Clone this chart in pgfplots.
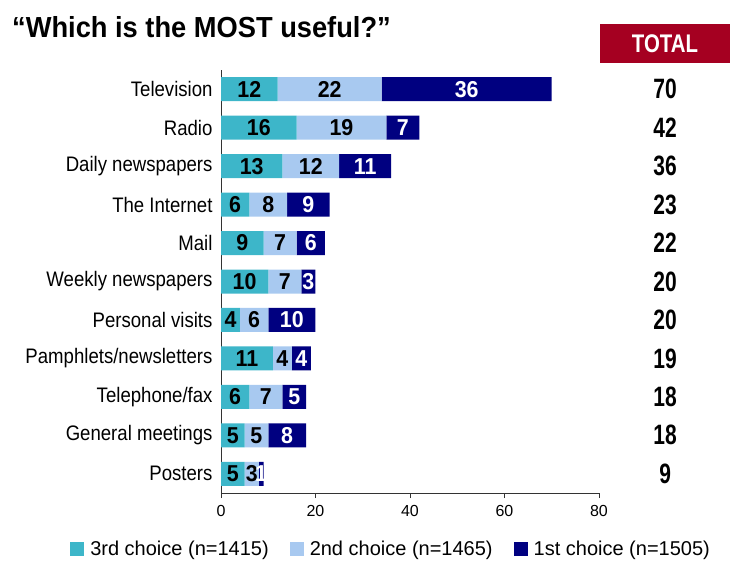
\documentclass[border=0pt]{standalone}
\usepackage{fontspec}
\setmainfont{Liberation Sans}
\newfontfamily\titlefont[FakeStretch=0.94]{Liberation Sans}
\newfontfamily\labfont[FakeStretch=0.885]{Liberation Sans}
\newfontfamily\numfont[FakeStretch=0.93]{Liberation Sans}
\newfontfamily\totfont[FakeStretch=0.75]{Liberation Sans}
\newfontfamily\hdrfont[FakeStretch=0.8]{Liberation Sans}
\usepackage{pgfplots}
\usepackage{pgfplotstable}
\pgfplotsset{compat=1.18}
\definecolor{cthree}{HTML}{3DB6C9}
\definecolor{ctwo}{HTML}{A8C9F0}
\definecolor{cone}{HTML}{000080}
\definecolor{cred}{HTML}{A50021}

\pgfplotstableread{
y c3 c2 c1 tot
10 12 22 36 70
9 16 19 7 42
8 13 12 11 36
7 6 8 9 23
6 9 7 6 22
5 10 7 3 20
4 4 6 10 20
3 11 4 4 19
2 6 7 5 18
1 5 5 8 18
0 5 3 1 9
}\data

\pgfplotsset{
  common/.style={
    at={(221pt,-493pt)}, anchor=south west,
    scale only axis, width=378pt, height=423pt,
    xmin=0, xmax=80, ymin=-0.5, ymax=10.5, clip=false,
    /pgf/number format/assume math mode=true},
  lbl/.style={sharp plot, draw=none, mark=none, point meta=explicit, nodes near coords,
    nodes near coords style={anchor=center, text=#1, font=\numfont\bfseries\fontsize{23pt}{23pt}\selectfont}},
}

\begin{document}
\begin{tikzpicture}
\useasboundingbox (0pt,0pt) rectangle (730pt,-561pt);
\node[anchor=base west, inner sep=0pt] at (12pt,-38pt) {\titlefont\bfseries\fontsize{29pt}{29pt}\selectfont “Which is the MOST useful?”};
\fill[cred] (600pt,-24pt) rectangle (730pt,-63pt);
\node[text=white] at (665pt,-43.5pt) {\hdrfont\bfseries\fontsize{25.5pt}{25.5pt}\selectfont TOTAL};
\begin{axis}[
  common,
  xbar stacked, bar width=24pt,
  axis x line*=bottom, axis y line*=left,
  axis line style={-, black!80},
  xtick={0,20,40,60,80},
  ytick={0,...,10},
  yticklabels={Posters,General meetings,Telephone/fax,Pamphlets/newsletters,Personal visits,Weekly newspapers,Mail,The Internet,Daily newspapers,Radio,Television},
  yticklabel style={font=\labfont\fontsize{21pt}{21pt}\selectfont},
  xticklabel style={font=\fontsize{16pt}{16pt}\selectfont, yshift=-4pt},
  tick align=outside, major tick length=5pt,
  xtick style={black!80, line width=0.8pt},
  ytick style={draw=none},
  legend style={at={(0.45,-0.132)}, anchor=center, draw=none, legend columns=3,
    font=\fontsize{20pt}{20pt}\selectfont,
    /tikz/every even column/.append style={column sep=19pt}},
  legend image code/.code={\fill[#1] (0pt,-7pt) rectangle (14pt,7pt);},
]
\addplot[fill=cthree, draw=none] table[x=c3, y=y] {\data};
\addplot[fill=ctwo, draw=none] table[x=c2, y=y] {\data};
\addplot[fill=cone, draw=none] table[x=c1, y=y] {\data};
\legend{\hspace{4pt}3rd choice (n=1415), \hspace{4pt}2nd choice (n=1465), \hspace{4pt}1st choice (n=1505)}
\end{axis}
\begin{axis}[common, hide axis]
\addplot[lbl=black] table[x expr=\thisrow{c3}/2, y=y, meta=c3] {\data};
\addplot[lbl=black] table[x expr=\thisrow{c3}+\thisrow{c2}/2, y=y, meta=c2] {\data};
\addplot[lbl=white] table[x expr=\thisrow{c3}+\thisrow{c2}+\thisrow{c1}/2, y=y, meta=c1] {\data};
\addplot[sharp plot, draw=none, mark=none, point meta=explicit, nodes near coords,
  nodes near coords style={anchor=center, text=black, font=\totfont\bfseries\fontsize{28pt}{28pt}\selectfont}]
  table[x expr=94, y=y, meta=tot] {\data};
\end{axis}
\end{tikzpicture}
\end{document}
